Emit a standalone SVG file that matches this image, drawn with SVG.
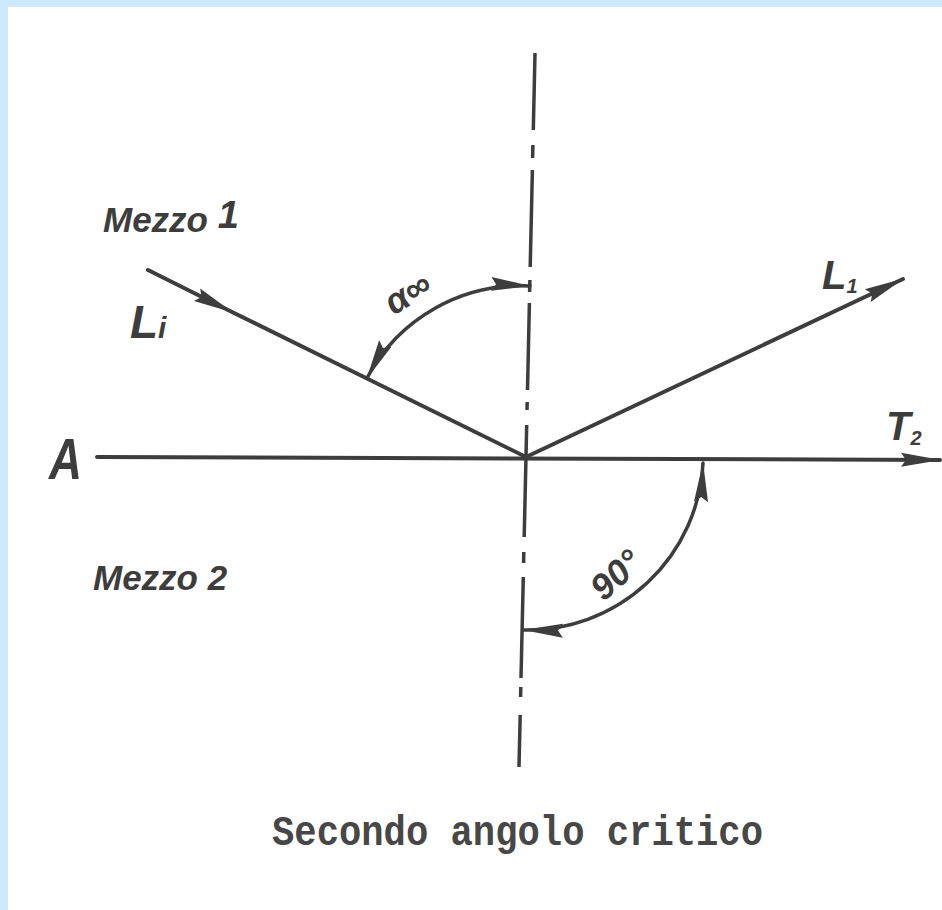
<svg xmlns="http://www.w3.org/2000/svg" width="942" height="910" viewBox="0 0 942 910">
<style>
.ln{stroke:#3d3d3d;stroke-width:4;fill:none;stroke-linecap:round}
.ax{stroke:#3d3d3d;stroke-width:3.5;fill:none;stroke-linecap:butt}
.hw{font-family:"Liberation Sans","DejaVu Sans",sans-serif;font-style:italic;font-weight:bold;fill:#3d3d3d}
.cap{font-family:"Liberation Mono","DejaVu Sans Mono",monospace;font-weight:bold;fill:#474747}
</style>
<defs>
<marker id="ah" markerUnits="userSpaceOnUse" markerWidth="40" markerHeight="18" viewBox="0 0 40 18" refX="39" refY="9" orient="auto-start-reverse">
<path d="M0,2 L40,9 L0,16 L5,9 Z" fill="#3d3d3d"/>
</marker>
</defs>
<rect x="0" y="0" width="942" height="910" fill="#cce9ff"/>
<rect x="8" y="7" width="934" height="903" fill="#ffffff"/>

<g id="axis-normal">
<path class="ax" d="M535,53 L533.3,130 M532.9,145 L532.6,158 M532.4,170 L530.2,267 M529.9,280 L529.6,292 M529.4,303 L527.5,390 M527.2,402 L527,410 M526.7,425 L524.2,537 M523.8,552 L523.6,563 M523.3,577 L521,678 M520.8,687 L520.6,697 M520.2,715 L519,767"/>
</g>

<g id="connectors">
<path id="interface" class="ln" d="M97,457 L940,460" marker-end="url(#ah)"/>
<path id="incident" class="ln" d="M148,270 L232,312 L526,457" marker-mid="url(#ah)"/>
<path id="reflected" class="ln" d="M526,457 L903,279" marker-end="url(#ah)"/>
<path id="arc-alpha" class="ln" style="stroke-width:3.5" d="M367,378 A174,174 0 0 1 530,286" marker-start="url(#ah)" marker-end="url(#ah)"/>
<path id="arc-90" class="ln" style="stroke-width:3.5" d="M703,463 A176,176 0 0 1 524,630" marker-start="url(#ah)" marker-end="url(#ah)"/>
</g>

<g id="label-mezzo1"><text class="hw" x="103" y="232" font-size="35">Mezzo <tspan dy="-4" font-size="38">1</tspan></text></g>
<g id="label-Li"><text class="hw" x="130" y="338" font-size="46">L<tspan font-size="30">i</tspan></text></g>
<g id="label-L1"><text class="hw" x="822" y="289" font-size="40">L<tspan font-size="20" dy="4">1</tspan></text></g>
<g id="label-T2"><text class="hw" x="886" y="440" font-size="40">T<tspan font-size="20" dy="5">2</tspan></text></g>
<g id="label-A"><text class="hw" style="font-weight:600" x="49" y="479" font-size="58" textLength="33" lengthAdjust="spacingAndGlyphs">A</text></g>
<g id="label-mezzo2"><text class="hw" x="93" y="590" font-size="35">Mezzo 2</text></g>
<g id="label-alpha"><text class="hw" font-size="36" transform="translate(414,303) rotate(-32)" text-anchor="middle">α∞</text></g>
<g id="label-90"><text class="hw" font-size="36" transform="translate(624,584) rotate(-42)" text-anchor="middle">90°</text></g>
<g id="caption"><text class="cap" x="272" y="845" font-size="42" textLength="491" lengthAdjust="spacingAndGlyphs">Secondo angolo critico</text></g>
</svg>
